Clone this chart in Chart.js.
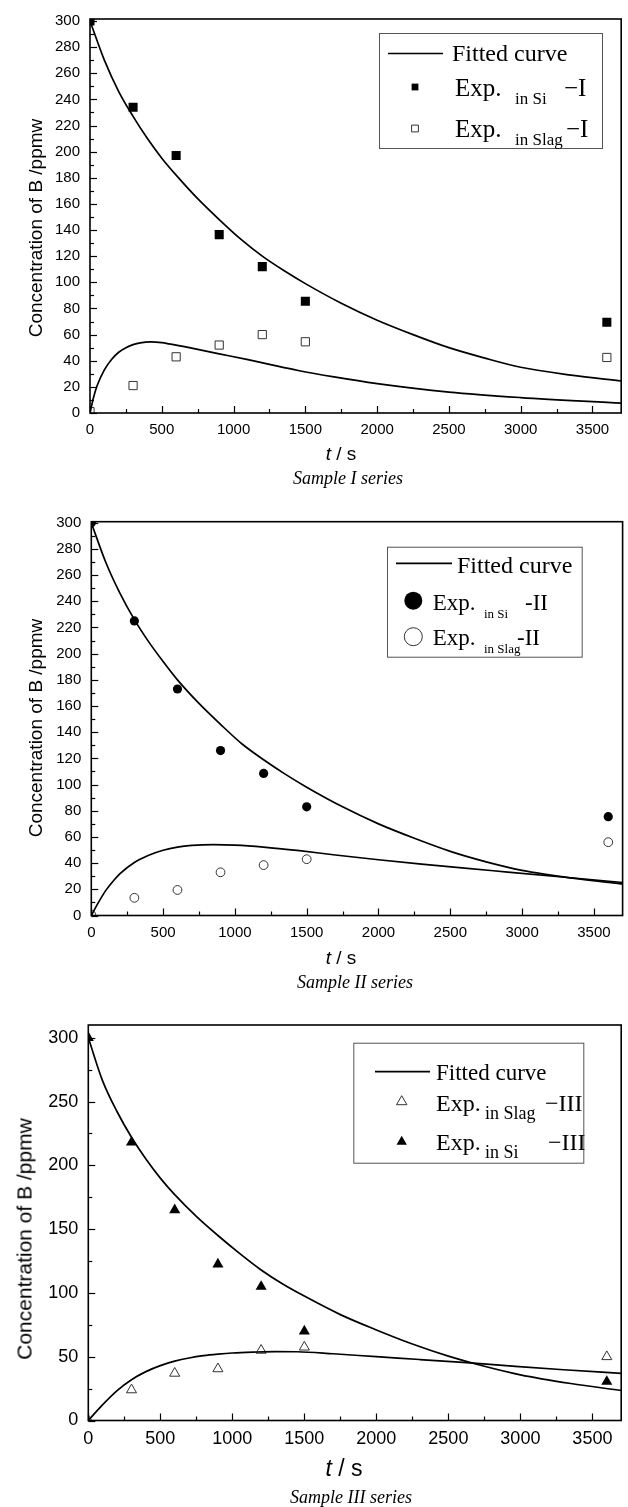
<!DOCTYPE html>
<html>
<head>
<meta charset="utf-8">
<script src="https://cdn.jsdelivr.net/npm/chart.js@4.4.1/dist/chart.umd.min.js"></script>
<style>
html,body{margin:0;padding:0;background:#fff;}
#page{position:relative;width:628px;height:1507px;background:#fff;overflow:hidden;}
.panel{position:absolute;left:0;width:628px;}
.panel canvas{display:block;}
.t{position:absolute;white-space:nowrap;line-height:1;color:#000;transform:translate(-50%,-50%);}
.ytitle{font-family:"Liberation Sans",Arial,sans-serif;transform:translate(-50%,-50%) rotate(-90deg);}
.xtitle{font-family:"Liberation Sans",Arial,sans-serif;}
.cap{font-family:"Liberation Serif","Times New Roman",serif;font-style:italic;}
</style>
</head>
<body>
<div id="page">
  <div class="panel" style="top:0px;height:465px"><canvas id="c1" width="628" height="465"></canvas></div>
  <div class="panel" style="top:500px;height:470px"><canvas id="c2" width="628" height="470"></canvas></div>
  <div class="panel" style="top:1000px;height:482px"><canvas id="c3" width="628" height="482"></canvas></div>

  <div class="t ytitle" style="left:35px;top:228px;font-size:19px">Concentration of B /ppmw</div>
  <div class="t xtitle" style="left:341px;top:453px;font-size:19px"><i>t</i> / s</div>
  <div class="t cap" style="left:348px;top:478px;font-size:18px">Sample I series</div>

  <div class="t ytitle" style="left:35px;top:728px;font-size:19px">Concentration of B /ppmw</div>
  <div class="t xtitle" style="left:341px;top:957px;font-size:19px"><i>t</i> / s</div>
  <div class="t cap" style="left:355px;top:982px;font-size:18px">Sample II series</div>

  <div class="t ytitle" style="left:24px;top:1239px;font-size:21px">Concentration of B /ppmw</div>
  <div class="t xtitle" style="left:344px;top:1468px;font-size:23px"><i>t</i> / s</div>
  <div class="t cap" style="left:351px;top:1497px;font-size:18px">Sample III series</div>
</div>
<script>
// ---------------- data ----------------
const xTickLabels = [0, 500, 1000, 1500, 2000, 2500, 3000, 3500];
const yTicksI = [0, 20, 40, 60, 80, 100, 120, 140, 160, 180, 200, 220, 240, 260, 280, 300];
const yTicksII = [0, 20, 40, 60, 80, 100, 120, 140, 160, 180, 200, 220, 240, 260, 280, 300];
const yTicksIII = [0, 50, 100, 150, 200, 250, 300];

const tExp = [0, 300, 600, 900, 1200, 1500, 3600];

// Sample I
const siI   = [300, 234, 197, 136.5, 112, 85.5, 69.5];
const slagI = [1, 21, 43, 52, 60, 54.5, 42.5];
const fitTSiI = [0, 100, 200, 300, 400, 500, 600, 750, 900, 1050, 1200, 1350, 1500, 1750, 2000, 2250, 2500, 2750, 3000, 3350, 3700];
const fitSiI  = [300, 270, 246, 227, 210, 195, 182, 164, 148, 133, 120, 109, 99, 84, 71, 60, 50, 42, 35, 29, 24.5];
const fitTSlagI = [0, 25, 50, 100, 150, 200, 250, 300, 350, 425, 500, 550, 700, 900, 1100, 1250, 1450, 1700, 2000, 2500, 3000, 3700];
const fitSlagI  = [0, 12, 21, 33, 41, 46.5, 50, 52.3, 53.7, 54.4, 53.8, 52.9, 49.8, 45.3, 40.8, 37.2, 32.5, 27.6, 22.5, 16, 11.8, 7.5];
const legendI = [['Fitted curve'], ['Exp.', 'in Si', '\u2212I'], ['Exp.', 'in Slag', '\u2212I']];

// Sample II
const siII   = [300, 225, 173, 126, 108.5, 83, 75.5];
const slagII = [0.5, 13.5, 19.5, 33, 38.5, 43, 56];
const fitTSiII = [0, 100, 200, 300, 400, 500, 600, 750, 900, 1050, 1200, 1350, 1500, 1750, 2000, 2250, 2500, 2750, 3000, 3350, 3700];
const fitSiII  = [300, 270, 246, 226, 209, 194, 180, 162, 146, 131, 119, 108, 98, 83, 70, 59, 49, 41, 34.5, 28.5, 24];
const fitTSlagII = [0, 50, 100, 150, 200, 300, 400, 500, 600, 700, 850, 1000, 1200, 1450, 1700, 2000, 2300, 2600, 2900, 3300, 3700];
const fitSlagII  = [0, 10, 19, 26, 32, 40.5, 46, 49.8, 52.2, 53.5, 54.2, 53.8, 52.3, 49.5, 46.2, 42.6, 39.3, 36.2, 33.2, 29.2, 25.2];
const legendII = [['Fitted curve'], ['Exp.', 'in Si', '-II'], ['Exp.', 'in Slag', '-II']];

// Sample III
const siIII   = [300, 218, 165, 122.5, 105, 70, 30.5];
const slagIII = [0, 24, 37, 40.5, 55, 57.5, 50];
const fitTSiIII = [0, 100, 200, 300, 400, 500, 600, 750, 900, 1050, 1200, 1350, 1500, 1750, 2000, 2250, 2500, 2750, 3000, 3350, 3700];
const fitSiIII  = [300, 266, 242, 222, 205, 190, 177, 160, 145, 131, 118, 107, 97.5, 83, 71, 60, 50.5, 42.5, 35.8, 29, 23.5];
const fitTSlagIII = [0, 100, 200, 300, 400, 500, 600, 700, 800, 900, 1000, 1150, 1300, 1450, 1700, 2000, 2300, 2600, 2900, 3300, 3700];
const fitSlagIII  = [0, 12.5, 23.5, 32, 38.3, 43, 46.5, 49, 50.8, 52, 52.9, 53.6, 54, 53.9, 52.3, 50, 47.8, 45.5, 43, 39.8, 37];
const legendIII = [['Fitted curve'], ['Exp.', 'in Slag', '\u2212III'], ['Exp.', 'in Si', '\u2212III']];

// ---------------- helpers ----------------
function pts(xs, ys) { return xs.map((x, i) => ({ x: x, y: ys[i] })); }
const SANS = '"Liberation Sans", Arial, sans-serif';
const SERIF = '"Liberation Serif", "Times New Roman", serif';

const innerFrame = {
  id: 'innerFrame',
  afterDatasetsDraw(chart) {
    const { ctx, chartArea: a, scales } = chart;
    ctx.save();
    ctx.strokeStyle = '#000';
    ctx.lineWidth = 1.2;
    const xs = scales.x, ys = scales.y;
    const xv = xs.ticks.map(t => t.value), yv = ys.ticks.map(t => t.value);
    const mids = v => { const m = []; for (let i = 0; i < v.length; i++) { const next = i + 1 < v.length ? v[i + 1] : v[i] + (v[i] - v[i - 1]); m.push((v[i] + next) / 2); } return m; };
    const tx = (v, len) => { if (v < xs.min || v > xs.max) return; const p = Math.round(xs.getPixelForValue(v)) + 0.5; ctx.beginPath(); ctx.moveTo(p, a.bottom); ctx.lineTo(p, a.bottom - len); ctx.stroke(); };
    const ty = (v, len) => { if (v < ys.min || v > ys.max) return; const p = Math.round(ys.getPixelForValue(v)) + 0.5; ctx.beginPath(); ctx.moveTo(a.left, p); ctx.lineTo(a.left + len, p); ctx.stroke(); };
    xv.forEach(v => tx(v, 7)); mids(xv).forEach(v => tx(v, 4));
    yv.forEach(v => ty(v, 7)); mids(yv).forEach(v => ty(v, 4));
    ctx.lineWidth = 1.6;
    ctx.strokeRect(a.left, a.top, a.right - a.left, a.bottom - a.top);
    ctx.restore();
  }
};

const boxLegend = {
  id: 'boxLegend',
  afterDraw(chart) {
    const L = chart.options.plugins.boxLegend;
    if (!L) return;
    const ctx = chart.ctx;
    ctx.save();
    ctx.fillStyle = '#fff';
    ctx.fillRect(L.box.x, L.box.y, L.box.w, L.box.h);
    ctx.strokeStyle = '#555';
    ctx.lineWidth = 1;
    ctx.strokeRect(L.box.x + 0.5, L.box.y + 0.5, L.box.w, L.box.h);
    L.rows.forEach(r => {
      const ds = chart.data.datasets[r.ds];
      if (r.line) {
        ctx.strokeStyle = ds.borderColor; ctx.lineWidth = ds.borderWidth;
        ctx.beginPath(); ctx.moveTo(r.line[0], r.my); ctx.lineTo(r.line[1], r.my); ctx.stroke();
      } else {
        ctx.fillStyle = ds.backgroundColor; ctx.strokeStyle = ds.borderColor;
        ctx.lineWidth = ds.borderWidth;
        Chart.helpers.drawPoint(ctx, { pointStyle: ds.pointStyle, radius: r.r, rotation: 0, borderWidth: ds.borderWidth }, r.mx, r.my);
      }
      ctx.fillStyle = '#000';
      ctx.textBaseline = 'alphabetic';
      ctx.textAlign = 'left';
      r.parts.forEach(p => { ctx.font = p.size + 'px ' + SERIF; ctx.fillText(p.text, p.x, p.y); });
    });
    ctx.restore();
  }
};

function build(id, o) {
  return new Chart(document.getElementById(id), {
    type: 'scatter',
    data: {
      datasets: [
        { label: 'Fitted curve', data: pts(o.fitTSi, o.fitSi), showLine: true, borderColor: '#000', backgroundColor: '#000', borderWidth: 1.7, pointRadius: 0, cubicInterpolationMode: 'monotone', fill: false },
        { label: 'Fitted curve', data: pts(o.fitTSlag, o.fitSlag), showLine: true, borderColor: '#000', backgroundColor: '#000', borderWidth: 1.7, pointRadius: 0, cubicInterpolationMode: 'monotone', fill: false },
        { label: o.siLabel, data: pts(tExp, o.si), showLine: false, pointStyle: o.style, pointRadius: o.rFill, backgroundColor: '#000', borderColor: '#000', borderWidth: 0 },
        { label: o.slagLabel, data: pts(tExp, o.slag), showLine: false, pointStyle: o.style, pointRadius: o.rOpen, backgroundColor: '#fff', borderColor: '#333', borderWidth: 1 }
      ]
    },
    options: {
      responsive: false, animation: false, events: [],
      layout: { padding: { top: o.padTop, right: o.padRight, left: 0, bottom: 0 } },
      plugins: { legend: { display: false }, tooltip: { enabled: false }, boxLegend: o.legend },
      scales: {
        x: {
          type: 'linear', min: 0, max: 3700,
          grid: { display: false, drawTicks: false }, border: { display: false },
          ticks: { font: { family: SANS, size: o.tickSize }, color: '#000', padding: o.xPad, autoSkip: false, maxRotation: 0, callback: v => String(v) },
          afterBuildTicks: s => { s.ticks = xTickLabels.map(v => ({ value: v })); },
          afterFit: s => { s.height = o.xAxisH; }
        },
        y: {
          type: 'linear', min: 0, max: o.yMax,
          grid: { display: false, drawTicks: false }, border: { display: false },
          ticks: { font: { family: SANS, size: o.tickSize }, color: '#000', padding: o.yPad, autoSkip: false, callback: v => String(v) },
          afterBuildTicks: s => { s.ticks = o.yTicks.map(v => ({ value: v })); },
          afterFit: s => { s.width = o.yAxisW; }
        }
      }
    },
    plugins: [innerFrame, boxLegend]
  });
}

function legendRows(lab, g) {
  return [
    { ds: 0, line: g.line, my: g.y0, parts: [{ text: lab[0][0], x: g.tx0, y: g.b0, size: g.f0 }] },
    { ds: g.ds1, r: g.r, mx: g.mx, my: g.y1, parts: [
      { text: lab[1][0], x: g.ex, y: g.b1, size: g.fe },
      { text: lab[1][1], x: g.sx, y: g.b1 + g.sub, size: g.fs },
      { text: lab[1][2], x: g.px1, y: g.b1, size: g.fe } ] },
    { ds: g.ds2, r: g.r, mx: g.mx, my: g.y2, parts: [
      { text: lab[2][0], x: g.ex, y: g.b2, size: g.fe },
      { text: lab[2][1], x: g.sx, y: g.b2 + g.sub, size: g.fs },
      { text: lab[2][2], x: g.px2, y: g.b2, size: g.fe } ] }
  ];
}

build('c1', {
  si: siI, slag: slagI, fitTSi: fitTSiI, fitSi: fitSiI, fitTSlag: fitTSlagI, fitSlag: fitSlagI,
  siLabel: 'Exp. in Si \u2212I', slagLabel: 'Exp. in Slag \u2212I',
  style: 'rect', rFill: 6.4, rOpen: 5.8, yMax: 301.5, yTicks: yTicksI,
  padTop: 17, padRight: 2, xAxisH: 52, yAxisW: 90, tickSize: 15, xPad: 8, yPad: 10,
  legend: { box: { x: 379, y: 33, w: 223, h: 115 },
    rows: legendRows(legendI, { line: [388, 443], y0: 53.5, tx0: 452, b0: 61, f0: 24,
      ds1: 2, ds2: 3, r: 4.8, mx: 415, y1: 87, y2: 128.5, ex: 455, b1: 96, b2: 137, fe: 25, sx: 515, sub: 8, fs: 17, px1: 564, px2: 566 }) }
});

build('c2', {
  si: siII, slag: slagII, fitTSi: fitTSiII, fitSi: fitSiII, fitTSlag: fitTSlagII, fitSlag: fitSlagII,
  siLabel: 'Exp. in Si -II', slagLabel: 'Exp. in Slag -II',
  style: 'circle', rFill: 4.6, rOpen: 4.4, yMax: 300.8, yTicks: yTicksII,
  padTop: 21.7, padRight: 2.4, xAxisH: 54.5, yAxisW: 91.3, tickSize: 15, xPad: 8, yPad: 10,
  legend: { box: { x: 387, y: 46.7, w: 194.7, h: 110 },
    rows: legendRows(legendII, { line: [396, 452], y0: 63.3, tx0: 457, b0: 72.7, f0: 24,
      ds1: 2, ds2: 3, r: 9, mx: 413.3, y1: 100.7, y2: 136.7, ex: 432.7, b1: 110, b2: 145, fe: 23, sx: 484, sub: 8, fs: 13, px1: 525, px2: 517 }) }
});

build('c3', {
  si: siIII, slag: slagIII, fitTSi: fitTSiIII, fitSi: fitSiIII, fitTSlag: fitTSlagIII, fitSlag: fitSlagIII,
  siLabel: 'Exp. in Si \u2212III', slagLabel: 'Exp. in Slag \u2212III',
  style: 'triangle', rFill: 6.4, rOpen: 5.8, yMax: 310, yTicks: yTicksIII,
  padTop: 25, padRight: 4, xAxisH: 61.5, yAxisW: 88.3, tickSize: 18, xPad: 8, yPad: 10,
  legend: { box: { x: 353.3, y: 42.7, w: 230, h: 120 },
    rows: legendRows(legendIII, { line: [375, 430], y0: 71.7, tx0: 436, b0: 80, f0: 23,
      ds1: 3, ds2: 2, r: 6, mx: 401.7, y1: 101.7, y2: 141.7, ex: 436, b1: 110.7, b2: 150, fe: 24, sx: 485, sub: 8, fs: 18, px1: 545, px2: 548 }) }
});
</script>
</body>
</html>
